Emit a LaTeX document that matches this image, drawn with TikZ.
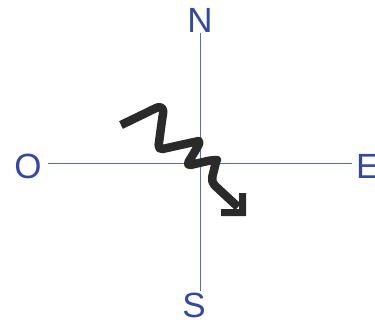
\documentclass[tikz,border=0pt]{standalone}
\usepackage{fontspec}
\setmainfont{Liberation Sans}
\definecolor{axisblue}{HTML}{5A6BB5}
\definecolor{labelblue}{HTML}{3448A0}
\definecolor{squig}{HTML}{2A2A2A}
\begin{document}
\begin{tikzpicture}[x=1pt,y=-1pt,
  lbl/.style={text=labelblue,font=\fontsize{35}{35}\selectfont,inner sep=0pt},
  axis/.style={draw=axisblue,line width=1pt}]
\useasboundingbox (0,0) rectangle (375,322);
\node[lbl] (N) at (200,20) {N};
\node[lbl] (S) at (194,305) {S};
\node[lbl] (O) at (28,166) {O};
\node[lbl,anchor=west] (E) at (356,166) {E};
\coordinate (ntop) at (200,33);
\coordinate (sbot) at (200,291);
\coordinate (wl) at (48,163);
\coordinate (er) at (352,163);
\draw[axis] (ntop) -- (sbot);
\draw[axis] (wl) -- (er);
\draw[squig,line width=8.5pt,line join=round,rounded corners=5pt]
  (121,125) -- (150,111) .. controls (162,105) and (164,108) .. (162,120)
  -- (158,150) -- (194,142) .. controls (199,141) and (199,144) .. (197,148)
  -- (186,166) -- (212,160) .. controls (215,160) and (216,162) .. (215,166)
  -- (211,182) -- (238,207);
\fill[squig] (221,209) -- (239,209) -- (239,193) -- (246,193) -- (246,216) -- (221,216) -- cycle;
\end{tikzpicture}
\end{document}
